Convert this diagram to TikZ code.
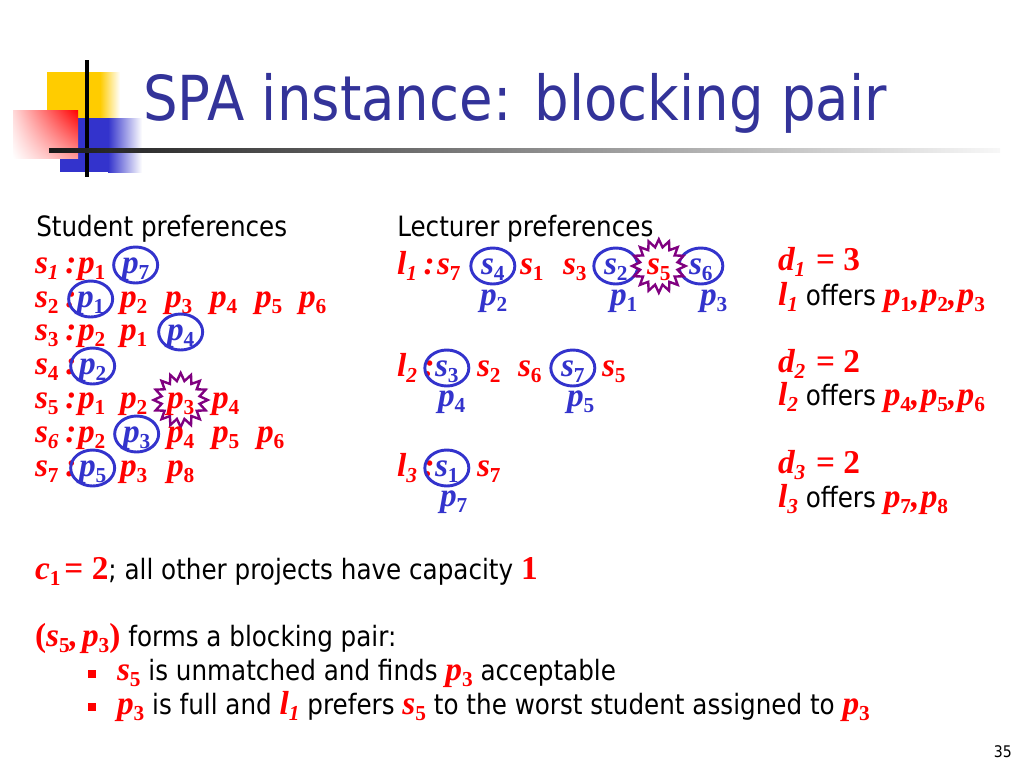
\documentclass[tikz,border=0pt]{standalone}
\usepackage{fontspec}
\setmainfont{DejaVu Sans}[FakeStretch=0.88]
\newfontfamily\tmsfont{Liberation Serif}
\usetikzlibrary{shapes.geometric,shadings}
\usetikzlibrary{positioning}
\definecolor{titleblue}{RGB}{51,51,153}
\definecolor{ringblue}{RGB}{51,51,204}
\definecolor{starpurple}{RGB}{128,0,128}
\definecolor{logoyellow}{RGB}{255,204,0}
\definecolor{logoblue}{RGB}{51,51,204}
% variable with subscript: upright index / italic index
\newcommand{\bv}[2]{{\tmsfont\bfseries\itshape #1}\raisebox{-4.5pt}{\fontsize{16}{16}\tmsfont\bfseries\upshape #2}}
\newcommand{\bvi}[2]{{\tmsfont\bfseries\itshape #1}\raisebox{-4.5pt}{\fontsize{16}{16}\tmsfont\bfseries\itshape #2}}
\newcommand{\sanstxt}[1]{{\normalfont\color{black}\fontsize{21}{21}\selectfont #1}}
\tikzset {
    pref/.style = {anchor=text, inner sep=0pt, text=red, text height=15pt, text depth=3pt,
        font=\tmsfont\bfseries\itshape\fontsize{25}{25}\selectfont},
    proj/.style = {pref, text=ringblue},
    matched/.style = {pref, shape=ellipse, draw=ringblue, line width=2.2pt, text=ringblue,
        minimum width=33pt, minimum height=27pt},
    blocked/.style = {pref, shape=star, star points=16, star point ratio=1.4, draw=starpurple,
        line width=1.8pt, fill=white, minimum size=40pt},
    headtxt/.style = {anchor=base west, inner sep=0pt, font=\fontsize{21}{21}\selectfont},
    bulletsq/.style = {shape=rectangle, fill=red, inner sep=0pt, minimum size=6pt}
    %ring/.style={circle, draw}
}

\begin{document}
\begin{tikzpicture}[x=0.75pt, y=-0.75pt]
	\useasboundingbox (0,0) rectangle (1024,768);
	% logo
	\fill[logoyellow] (47,72) rectangle (100,120);
	\shade[left color=logoyellow, right color=white] (100,72) rectangle (120,120);
	\fill[logoblue] (60,118) rectangle (108,172);
	\shade[left color=logoblue, right color=white] (108,118) rectangle (142,172);
	\shade[upper left=red!15, upper right=red, lower left=white, lower right=red!40] (13,110) rectangle (78,158);
	\draw[line width=2.3pt] (87,60) -- (87,177);
	\shade[left color=black!90, right color=black!3] (49,148) rectangle (1000,152);
	\node (title) [anchor=base west, inner sep=0pt, text=titleblue, font=\fontsize{46.5}{46.5}\selectfont] at (143,120) {SPA instance: blocking pair};

	\node (shead) [headtxt] at (36,236) {Student preferences};
	\node (lhead) [headtxt] at (397,236) {Lecturer preferences};

	% student preference lists
	\node (s1) [pref] at (35,273) {\bvi{s}{1}\kern5pt:};
	\node (s1a) [pref] at (78,273) {\bv{p}{1}};
	\node (s1b) [matched] at (122,273) {\bv{p}{7}};

	\node (s2) [pref] at (35,307) {\bv{s}{2}\kern5pt:};
	\node (s2a) [matched] at (77,307) {\bv{p}{1}};
	\node (s2b) [pref] at (120,307) {\bv{p}{2}};
	\node (s2c) [pref] at (165,307) {\bv{p}{3}};
	\node (s2d) [pref] at (210,307) {\bv{p}{4}};
	\node (s2e) [pref] at (255,307) {\bv{p}{5}};
	\node (s2f) [pref] at (299,307) {\bv{p}{6}};

	\node (s3) [pref] at (35,340) {\bv{s}{3}\kern5pt:};
	\node (s3a) [pref] at (78,340) {\bv{p}{2}};
	\node (s3b) [pref] at (120,340) {\bv{p}{1}};
	\node (s3c) [matched] at (167,340) {\bv{p}{4}};

	\node (s4) [pref] at (35,374) {\bv{s}{4}\kern5pt:};
	\node (s4a) [matched] at (79,374) {\bv{p}{2}};

	\node (s5) [pref] at (35,408) {\bv{s}{5}\kern5pt:};
	\node (s5a) [pref] at (78,408) {\bv{p}{1}};
	\node (s5b) [pref] at (120,408) {\bv{p}{2}};
	\node (s5c) [blocked] at (167,408) {\bv{p}{3}};
	\node (s5d) [pref] at (212,408) {\bv{p}{4}};

	\node (s6) [pref] at (35,442) {\bvi{s}{6}\kern5pt:};
	\node (s6a) [pref] at (78,442) {\bv{p}{2}};
	\node (s6b) [matched] at (123,442) {\bv{p}{3}};
	\node (s6c) [pref] at (167,442) {\bv{p}{4}};
	\node (s6d) [pref] at (212,442) {\bv{p}{5}};
	\node (s6e) [pref] at (257,442) {\bv{p}{6}};

	\node (s7) [pref] at (35,476) {\bv{s}{7}\kern5pt:};
	\node (s7a) [matched] at (79,476) {\bv{p}{5}};
	\node (s7b) [pref] at (120,476) {\bv{p}{3}};
	\node (s7c) [pref] at (167,476) {\bv{p}{8}};

	% lecturer preference lists
	\node (l1) [pref] at (397,274) {\bvi{l}{1}\kern5pt:};
	\node (l1a) [pref] at (437,274) {\bv{s}{7}};
	\node (l1b) [matched] at (481,274) {\bv{s}{4}};
	\node (l1c) [pref] at (520,274) {\bv{s}{1}};
	\node (l1d) [pref] at (563,274) {\bv{s}{3}};
	\node (l1e) [matched] at (604,274) {\bv{s}{2}};
	\node (l1g) [matched] at (689,274) {\bv{s}{6}};
	\node (l1f) [blocked] at (647,274) {\bv{s}{5}};
	\node (p2) [proj] at (480,305) {\bv{p}{2}};
	\node (p1) [proj] at (610,305) {\bv{p}{1}};
	\node (p3) [proj] at (700,305) {\bv{p}{3}};

	\node (l2) [pref] at (397,376) {\bvi{l}{2}\kern5pt:};
	\node (l2a) [matched] at (435,376) {\bv{s}{3}};
	\node (l2b) [pref] at (477,376) {\bv{s}{2}};
	\node (l2c) [pref] at (518,376) {\bv{s}{6}};
	\node (l2d) [matched] at (561,376) {\bv{s}{7}};
	\node (l2e) [pref] at (602,376) {\bv{s}{5}};
	\node (p4) [proj] at (438,406) {\bv{p}{4}};
	\node (p5) [proj] at (567,406) {\bv{p}{5}};

	\node (l3) [pref] at (397,476) {\bvi{l}{3}\kern5pt:};
	\node (l3a) [matched] at (435,476) {\bv{s}{1}};
	\node (l3b) [pref] at (477,476) {\bv{s}{7}};
	\node (p7) [proj] at (440,506) {\bv{p}{7}};

	% capacities
	\node (d1) [pref] at (778,270) {\bvi{d}{1}\kern8pt{\upshape= 3}};
	\node (o1) [pref] at (778,305) {\bvi{l}{1}\sanstxt{ offers }\bv{p}{1},\kern1pt\bv{p}{2},\kern1pt\bv{p}{3}};
	\node (d2) [pref] at (778,372) {\bvi{d}{2}\kern8pt{\upshape= 2}};
	\node (o2) [pref] at (778,405) {\bvi{l}{2}\sanstxt{ offers }\bv{p}{4},\kern1pt\bv{p}{5},\kern1pt\bv{p}{6}};
	\node (d3) [pref] at (778,473) {\bvi{d}{3}\kern8pt{\upshape= 2}};
	\node (o3) [pref] at (778,507) {\bvi{l}{3}\sanstxt{ offers }\bv{p}{7},\kern1pt\bv{p}{8}};

	% remarks
	\node (cap) [pref] at (35,579) {\bv{c}{1}{\upshape\kern3pt= 2}\sanstxt{; all other projects have capacity }{\upshape 1}};
	\node (bp) [pref] at (35,646) {{\upshape(}\bv{s}{5},\kern3pt\bv{p}{3}{\upshape)}\sanstxt{ forms a blocking pair:}};
	\node (b1) [bulletsq] at (92,674) {};
	\node (r1) [pref] at (117,680) {\bv{s}{5}\sanstxt{ is unmatched and finds }\bv{p}{3}\sanstxt{ acceptable}};
	\node (b2) [bulletsq] at (92,707) {};
	\node (r2) [pref] at (117,714) {\bv{p}{3}\sanstxt{ is full and }\bvi{l}{1}\sanstxt{ prefers }\bv{s}{5}\sanstxt{ to the worst student assigned to }\bv{p}{3}};

	\node (pg) [anchor=base east, inner sep=0pt, font=\fontsize{12}{12}\selectfont] at (1012,757) {35};
\end{tikzpicture}
\end{document}
